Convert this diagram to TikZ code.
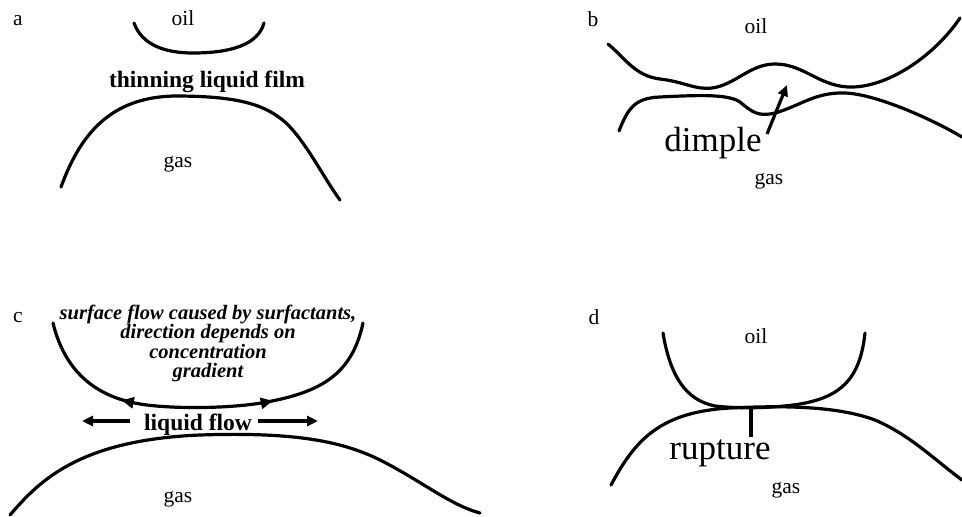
\documentclass[tikz,border=0pt]{standalone}
\usepackage{fontspec}
\setmainfont{Liberation Serif}
\usetikzlibrary{arrows.meta,decorations.markings}
\begin{document}
\begin{tikzpicture}[x=1pt,y=-1pt,
  iface/.style={line width=3.2pt,line cap=round},
  phase/.style={inner sep=0pt,anchor=base,font=\fontsize{21.5}{21.5}\selectfont},
  panel/.style={inner sep=0pt,anchor=base,font=\fontsize{21.5}{21.5}\selectfont},
  bigtag/.style={inner sep=0pt,anchor=base,font=\fontsize{35}{35}\selectfont},
  boldtag/.style={inner sep=0pt,anchor=base,font=\fontsize{23.5}{23.5}\selectfont\bfseries},
  pointer/.style={line width=3.2pt,-{Triangle[length=11pt,width=10pt]}},
  flowmarks/.style={decoration={markings,
      mark=at position 0.31 with {\arrow{Triangle[length=12pt,width=11pt,reversed]}},
      mark=at position 0.67 with {\arrow{Triangle[length=12pt,width=11pt]}}},
    postaction={decorate}}]
\useasboundingbox (0,0) rectangle (962,517);

% ---- a: thinning film ----
\node[panel] (la) at (18,25) {a};
\node[phase] (oila) at (183,25) {oil};
\node[boldtag] (filma) at (207,87) {thinning liquid film};
\node[phase] (gasa) at (178,167) {gas};
\draw[iface] (134,23) .. controls (142,45) and (165,53) .. (193,53)
  .. controls (230,53) and (258,45) .. (264,23);
\draw[iface] (61,187) .. controls (80,135) and (110,97) .. (175,96)
  .. controls (240,96) and (265,105) .. (285,122)
  .. controls (305,140) and (325,180) .. (340,200);

% ---- b: dimple ----
\node[panel] (lb) at (593,26) {b};
\node[phase] (oilb) at (756,33) {oil};
\node[bigtag] (dimple) at (713,151) {dimple};
\node[phase] (gasb) at (769,184) {gas};
\draw[iface] (608,44) .. controls (625,58) and (635,76) .. (660,79)
  .. controls (685,82) and (695,90) .. (712,88)
  .. controls (735,85) and (750,64) .. (775,64)
  .. controls (805,64) and (820,88) .. (853,87)
  .. controls (890,86) and (935,55) .. (960,18);
\draw[iface] (619,131) .. controls (628,108) and (635,98) .. (660,97)
  .. controls (700,95) and (728,94) .. (740,102)
  .. controls (752,112) and (758,117) .. (775,113)
  .. controls (800,106) and (815,92) .. (845,93)
  .. controls (875,94) and (930,118) .. (962,137);
\coordinate (dimpletail) at (767,134);
\coordinate (dimpletip) at (787,85);
\draw[pointer] (dimpletail) -- (dimpletip);

% ---- c: surface and liquid flow ----
\node[panel] (lc) at (18,322) {c};
\node[inner sep=0pt,anchor=base,align=center,
  font=\fontsize{20.5}{19.5}\selectfont\bfseries\itshape] (surf) at (208,377.5)
  {surface flow caused by surfactants,\\direction depends on\\concentration\\gradient};
\node[boldtag] (flowc) at (198,430) {liquid flow};
\node[phase] (gasc) at (178,502) {gas};
\draw[iface,flowmarks] (53,323) .. controls (62,360) and (85,395) .. (140,404)
  .. controls (170,409) and (230,409) .. (267,402)
  .. controls (320,392) and (352,375) .. (363,323);
\coordinate (flowL) at (82,421);
\coordinate (flowR) at (318,421);
\coordinate (flowLs) at (130,421);
\coordinate (flowRs) at (258,421);
\draw[pointer] (flowLs) -- (flowL);
\draw[pointer] (flowRs) -- (flowR);
\draw[iface] (10,515) .. controls (40,480) and (80,440) .. (200,435)
  .. controls (290,432) and (340,440) .. (380,460)
  .. controls (420,480) and (450,505) .. (480,513);

% ---- d: rupture ----
\node[panel] (ld) at (594,324) {d};
\node[phase] (oild) at (756,343) {oil};
\node[bigtag] (rupt) at (720,459) {rupture};
\node[phase] (gasd) at (786,493) {gas};
\draw[iface] (663,333) .. controls (670,375) and (685,400) .. (715,406)
  .. controls (740,409) and (775,408) .. (800,404)
  .. controls (840,397) and (860,380) .. (865,333);
\draw[iface] (611,485) .. controls (635,440) and (660,412) .. (730,408)
  .. controls (790,405) and (840,407) .. (875,420)
  .. controls (910,435) and (935,460) .. (962,480);
\coordinate (ruptpt) at (751,406);
\coordinate (ruptend) at (751,437);
\draw[line width=3.2pt] (ruptpt) -- (ruptend);
\end{tikzpicture}
\end{document}
